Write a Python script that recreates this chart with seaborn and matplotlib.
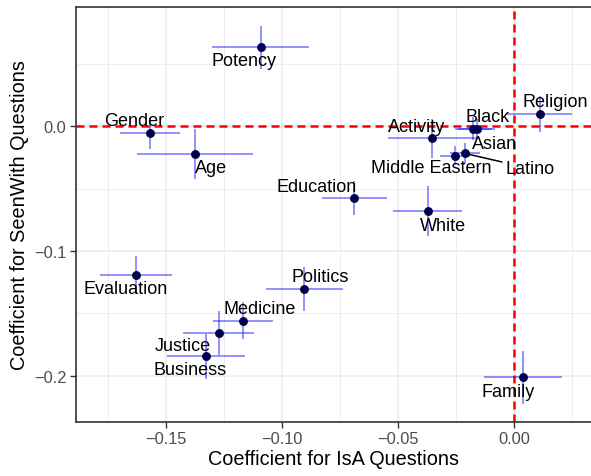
import matplotlib.pyplot as plt
import seaborn as sns
import pandas as pd
from matplotlib.ticker import MultipleLocator

# values
names = ['Potency', 'Gender', 'Age', 'Education', 'Religion', 'Black', 'Asian',
         'Activity', 'Middle Eastern', 'Latino', 'White', 'Evaluation', 'Politics',
         'Medicine', 'Justice', 'Business', 'Family']
isa = [-0.1093, -0.157, -0.1376, -0.069, 0.0111, -0.0177, -0.0162,
       -0.0353, -0.0256, -0.0213, -0.0373, -0.1632, -0.0905,
       -0.1168, -0.1273, -0.1329, 0.0039]
isa_err = [0.021, 0.013, 0.025, 0.014, 0.014, 0.008, 0.008,
           0.019, 0.0065, 0.0065, 0.015, 0.0155, 0.0166,
           0.013, 0.0153, 0.0167, 0.0168]
seen = [0.063, -0.0059, -0.0227, -0.0579, 0.0096, -0.002, -0.0025,
        -0.0096, -0.0237, -0.0219, -0.068, -0.1192, -0.1304,
        -0.1557, -0.1659, -0.1843, -0.201]
seen_err = [0.017, 0.0127, 0.020, 0.0136, 0.0146, 0.009, 0.008,
            0.0156, 0.0075, 0.008, 0.020, 0.015, 0.0176,
            0.015, 0.0176, 0.018, 0.0213]

# label offsets in pixels (like ggrepel placement)
lab_dx = [-17, -16, 16, -38, 15, 14, 18, -16, -24, 65, 15, -10, 16, 16, -36, -16, -15]
lab_dy = [-13, 13, -13, 12, 13, 12, -14, 12, -12, -15, -14, -14, 12, 12, -12, -13, -14]

df = pd.DataFrame({'name': names, 'isa': isa, 'isa_err': isa_err,
                   'seen': seen, 'seen_err': seen_err})

sns.set_theme(style='whitegrid')
plt.rcParams['font.family'] = ['Liberation Sans', 'DejaVu Sans']

fig = plt.figure(figsize=(5.91, 4.77), dpi=100)
ax = fig.add_axes([0.1286, 0.1138, 0.8714, 0.8688])

ax.set_xlim(-0.1889, 0.0331)
ax.set_ylim(-0.2366, 0.095)

ax.xaxis.set_major_locator(MultipleLocator(0.05))
ax.xaxis.set_minor_locator(MultipleLocator(0.025))
ax.yaxis.set_major_locator(MultipleLocator(0.1))
ax.yaxis.set_minor_locator(MultipleLocator(0.05))
ax.grid(True, which='major', color='#EBEBEB', linewidth=1.1)
ax.grid(True, which='minor', color='#EBEBEB', linewidth=0.6)
ax.set_axisbelow(True)

ax.axhline(0, color='red', linewidth=1.8, dashes=(3.2, 2), zorder=1)
ax.axvline(0, color='red', linewidth=1.8, dashes=(3.2, 2), zorder=1)

ax.errorbar(df['isa'], df['seen'], xerr=df['isa_err'], yerr=df['seen_err'],
            fmt='none', ecolor=(0, 0, 1, 0.5), elinewidth=1.2, capsize=0, zorder=2)
sns.scatterplot(data=df, x='isa', y='seen', color='#000050', s=34,
                edgecolor='#000030', linewidth=0.5, zorder=3, ax=ax)

for i, row in df.iterrows():
    if row['name'] == 'Latino':
        ax.annotate(row['name'], xy=(row['isa'], row['seen']),
                    xytext=(lab_dx[i], lab_dy[i]), textcoords='offset pixels',
                    ha='center', va='center', fontsize=13, color='black',
                    arrowprops=dict(arrowstyle='-', color='black', lw=1.1,
                                    shrinkA=0, shrinkB=3))
    else:
        ax.annotate(row['name'], xy=(row['isa'], row['seen']),
                    xytext=(lab_dx[i], lab_dy[i]), textcoords='offset pixels',
                    ha='center', va='center', fontsize=13, color='black')

for side in ['left', 'bottom', 'top']:
    ax.spines[side].set_color('#333333')
    ax.spines[side].set_linewidth(1.2)
ax.spines['right'].set_visible(False)

ax.tick_params(axis='both', which='major', length=4.5, width=1.0, color='#333333',
               labelcolor='#4D4D4D', labelsize=11.8, pad=2.5, left=True, bottom=True)
ax.tick_params(which='minor', length=0)

ax.set_xlabel('Coefficient for IsA Questions', fontsize=14.3, color='black')
ax.set_ylabel('Coefficient for SeenWith Questions', fontsize=14.3, color='black')
ax.xaxis.set_label_coords(0.5, -0.066)
ax.yaxis.set_label_coords(-0.092, 0.5)

fig.savefig('out.png', dpi=100)
